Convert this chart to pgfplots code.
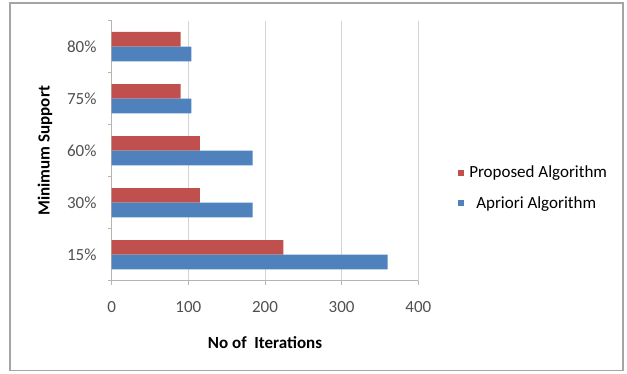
\documentclass[border=0pt]{standalone}
\usepackage{pgfplots}
\pgfplotsset{compat=1.18}
\usepackage{fontspec}
\setmainfont{Carlito}
\definecolor{cred}{RGB}{192,80,77}
\definecolor{cblue}{RGB}{79,129,189}
\definecolor{axgray}{RGB}{185,180,172}
\definecolor{gridgray}{RGB}{212,212,212}
\definecolor{framegray}{RGB}{165,165,165}
\definecolor{ticktext}{RGB}{80,80,80}
\begin{document}
\begin{tikzpicture}[x=1bp,y=1bp,font=\fontsize{17bp}{20bp}\selectfont]
\path[use as bounding box] (0,0) rectangle (627,373);
\draw[framegray, line width=1.5bp] (10,2.5) rectangle (623,370);
\begin{axis}[
  at={(111.7bp,92.3bp)}, anchor=south west,
  scale only axis, width=306.6bp, height=260bp,
  xbar, bar width=14.7bp,
  xmin=0, xmax=400, ymin=-0.5, ymax=4.5,
  axis lines*=left,
  axis line style={axgray, line width=0.8bp, -},
  xtick={0,100,200,300,400},
  /pgf/number format/assume math mode=true,
  xmajorgrids, major grid style={gridgray, line width=0.8bp},
  ytick={-0.5,0.5,1.5,2.5,3.5,4.5},
  yticklabels={},
  extra y ticks={0,1,2,3,4},
  extra y tick labels={15\%,30\%,60\%,75\%,80\%},
  extra y tick style={major tick length=0pt, ymajorgrids=false},
  tick align=outside,
  major tick length=4bp,
  tick style={axgray, line width=0.8bp},
  tick label style={font=\fontsize{17bp}{20bp}\selectfont, text=ticktext},
  yticklabel style={inner sep=0pt, anchor=east, xshift=-15bp},
  xticklabel style={inner sep=0pt, anchor=north, yshift=-17bp},
  xlabel={\bfseries No of\ \ Iterations},
  ylabel={\bfseries Minimum Support},
  x label style={at={(axis description cs:0.5,0)}, anchor=center, yshift=-61.5bp, font=\fontsize{17bp}{20bp}\selectfont},
  y label style={at={(axis description cs:0,0.5)}, anchor=center, yshift=66.7bp, font=\fontsize{17bp}{20bp}\selectfont},
  legend style={at={(1.120,0.357)}, anchor=west, draw=none, fill=none,
    font=\fontsize{17bp}{20bp}\selectfont, row sep=13bp,
    /tikz/every even column/.append style={column sep=0pt}},
  legend cell align=left,
  legend image code/.code={\fill (0bp,-3bp) rectangle (6bp,3bp); \path (9bp,0bp);},
]
\addplot[fill=cred, draw=none, bar shift=7.35bp] coordinates {(224,0) (115,1) (115,2) (90,3) (90,4)};
\addplot[fill=cblue, draw=none, bar shift=-7.35bp] coordinates {(360,0) (184,1) (184,2) (104,3) (104,4)};
\legend{Proposed Algorithm, \hspace*{7bp}Apriori Algorithm}
\end{axis}
\end{tikzpicture}
\end{document}
